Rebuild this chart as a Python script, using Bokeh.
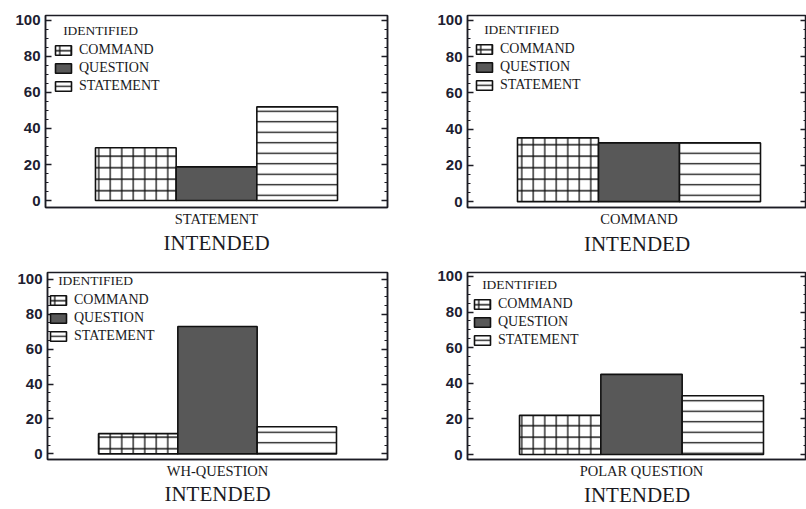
from bokeh.plotting import figure
from bokeh.models import Range1d, FixedTicker, LinearAxis, CustomJSTickFormatter
from bokeh.layouts import row, column
from bokeh.embed import file_html
from bokeh.resources import INLINE

# ---- data (percent identified for each intended type) ----
intended = ["STATEMENT", "COMMAND", "WH-QUESTION", "POLAR QUESTION"]
identified = ["COMMAND", "QUESTION", "STATEMENT"]
command_pct = [29.3, 35.2, 11.6, 22.0]
question_pct = [18.7, 32.4, 72.9, 45.0]
statement_pct = [52.0, 32.4, 15.5, 33.0]
y_ticks = [0, 20, 40, 60, 80, 100]
y_minor = [0, 5, 10, 15, 20, 25, 30, 35, 40, 45, 50, 55, 60, 65, 70, 75, 80, 85, 90, 95, 100]
x_title = "INTENDED"
legend_title = "IDENTIFIED"

series = [command_pct, question_pct, statement_pct]
styles = [
    dict(fill_color="white", hatch_pattern="+", hatch_scale=11.5, hatch_weight=1.3, hatch_color="#111111"),
    dict(fill_color="#585858"),
    dict(fill_color="white", hatch_pattern="-", hatch_scale=10.5, hatch_weight=1.3, hatch_color="#111111"),
]

# layout (pixels) per panel
panels = [
    dict(w=423, h=258, left=45, right=36, top=15, bottom=49, lpad=50, rpad=50, unit=80.7,
         y0=-3.85, y1=102.7, lg=(8, 8), ts=3, ls=1),
    dict(w=383, h=258, left=44, right=0, top=13, bottom=49, lpad=50, rpad=46, unit=81.0,
         y0=-3.24, y1=102.7, lg=(7, 8), ts=3, ls=2),
    dict(w=423, h=251, left=47, right=36, top=8, bottom=44, lpad=51, rpad=51, unit=79.3,
         y0=-3.2, y1=103.8, lg=(1, 6), ts=3, ls=0),
    dict(w=383, h=251, left=44, right=0, top=14, bottom=47, lpad=52, rpad=43, unit=81.3,
         y0=-2.8, y1=102.2, lg=(5, 7), ts=3, ls=1),
]

INK = "#1c1c24"


def style_yaxis(ax, labels=True):
    ax.ticker = FixedTicker(ticks=y_ticks, minor_ticks=y_minor)
    ax.axis_line_color = INK
    ax.axis_line_width = 1.5
    ax.major_tick_in = 6
    ax.major_tick_out = 0
    ax.minor_tick_in = 3
    ax.minor_tick_out = 0
    ax.major_tick_line_color = INK
    ax.minor_tick_line_color = INK
    ax.major_tick_line_width = 1.5
    ax.minor_tick_line_width = 1.2
    if labels:
        ax.major_label_text_font = "Liberation Sans"
        ax.major_label_text_font_style = "bold"
        ax.major_label_text_font_size = "15px"
        ax.major_label_text_color = "#202030"
        ax.major_label_standoff = 5
    else:
        ax.formatter = CustomJSTickFormatter(code="return ''")
        ax.major_label_standoff = 0


figs = []
for i, cfg in enumerate(panels):
    u = cfg["unit"]
    p = figure(
        width=cfg["w"], height=cfg["h"],
        x_range=Range1d(-0.5 - cfg["lpad"] / u, 2.5 + cfg["rpad"] / u),
        y_range=Range1d(cfg["y0"], cfg["y1"]),
        min_border_left=cfg["left"], min_border_right=cfg["right"],
        min_border_top=cfg["top"], min_border_bottom=cfg["bottom"],
        output_backend="svg", toolbar_location=None,
    )
    p.grid.visible = False
    p.outline_line_color = INK
    p.outline_line_width = 1.5
    p.background_fill_color = "white"
    p.border_fill_color = "white"

    for j, name in enumerate(identified):
        p.vbar(x=[j], top=[series[j][i]], bottom=0, width=1.0,
               line_color="#111111", line_width=1.6,
               legend_label=name, **styles[j])

    style_yaxis(p.yaxis[0])
    rax = LinearAxis()
    style_yaxis(rax, labels=False)
    p.add_layout(rax, "right")

    xa = p.xaxis[0]
    xa.ticker = FixedTicker(ticks=[1])
    xa.major_label_overrides = {1: intended[i]}
    xa.major_tick_line_color = None
    xa.minor_tick_line_color = None
    xa.major_tick_in = 0
    xa.major_tick_out = 0
    xa.minor_tick_in = 0
    xa.minor_tick_out = 0
    xa.axis_line_color = INK
    xa.axis_line_width = 1.5
    xa.major_label_text_font = "Liberation Serif"
    xa.major_label_text_font_size = "14.5px"
    xa.major_label_text_color = "#1a1a22"
    xa.major_label_standoff = cfg["ts"]
    xa.axis_label = x_title
    xa.axis_label_text_font = "Liberation Serif"
    xa.axis_label_text_font_size = "21px"
    xa.axis_label_text_font_style = "normal"
    xa.axis_label_text_color = "#1a1a22"
    xa.axis_label_standoff = cfg["ls"]

    lg = p.legend[0]
    lg.location = "top_left"
    lg.title = "\u00a0\u00a0\u00a0" + legend_title
    lg.title_text_font = "Liberation Serif"
    lg.title_text_font_size = "13.5px"
    lg.title_text_font_style = "normal"
    lg.title_text_color = "#1a1a22"
    lg.title_standoff = 3
    lg.label_text_font = "Liberation Serif"
    lg.label_text_font_size = "14px"
    lg.label_text_color = "#1a1a22"
    lg.glyph_width = 20
    lg.glyph_height = 12
    lg.label_height = 12
    lg.label_standoff = 6
    lg.spacing = 2
    lg.margin = cfg["lg"][0]
    lg.padding = cfg["lg"][1]
    lg.background_fill_alpha = 0
    lg.border_line_color = None
    figs.append(p)

layout = column(row(figs[0], figs[1]), row(figs[2], figs[3]))
open("out.html", "w").write(file_html(layout, INLINE))
